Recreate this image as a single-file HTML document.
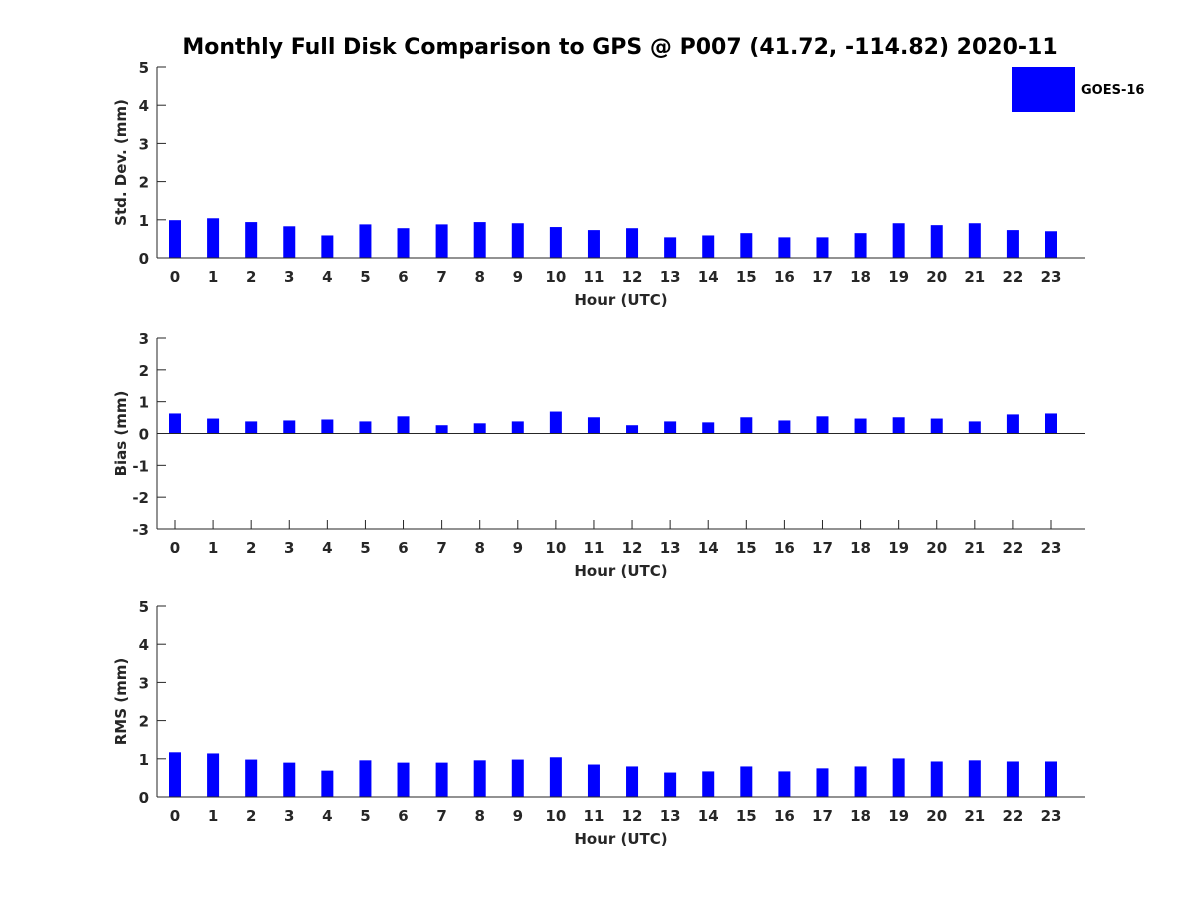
<!DOCTYPE html>
<html><head><meta charset="utf-8"><style>
body{margin:0;background:#fff;}
svg{display:block;font-family:"DejaVu Sans","Liberation Sans",sans-serif;font-weight:bold;}
</style></head><body>
<svg id="chart" width="1200" height="900" viewBox="0 0 1200 900">
<rect width="1200" height="900" fill="#fff"/>
<text x="620" y="54" text-anchor="middle" font-size="22" fill="#000">Monthly Full Disk Comparison to GPS @ P007 (41.72, -114.82) 2020-11</text>
<g>
<rect x="1012" y="67" width="63" height="45" fill="#0000ff"/>
<text x="1081" y="94" font-size="13" fill="#000">GOES-16</text>
</g>
</svg>
<script>
const hours = [0,1,2,3,4,5,6,7,8,9,10,11,12,13,14,15,16,17,18,19,20,21,22,23];
const stdValues = [0.99,1.04,0.94,0.83,0.59,0.88,0.78,0.88,0.94,0.91,0.81,0.73,0.78,0.54,0.59,0.65,0.54,0.54,0.65,0.91,0.86,0.91,0.73,0.70];
const biasValues = [0.63,0.47,0.38,0.41,0.44,0.38,0.54,0.26,0.32,0.38,0.69,0.51,0.26,0.38,0.35,0.51,0.41,0.54,0.47,0.51,0.47,0.38,0.60,0.63];
const rmsValues = [1.17,1.14,0.98,0.90,0.69,0.96,0.90,0.90,0.96,0.98,1.04,0.85,0.80,0.64,0.67,0.80,0.67,0.75,0.80,1.01,0.93,0.96,0.93,0.93];
const stdTicks = [0,1,2,3,4,5];
const biasTicks = [-3,-2,-1,0,1,2,3];
const rmsTicks = [0,1,2,3,4,5];

const NS = "http://www.w3.org/2000/svg";
const svg = document.getElementById('chart');
function mk(tag, attrs, parent){
  const e = document.createElementNS(NS, tag);
  for (const k in attrs) e.setAttribute(k, attrs[k]);
  (parent||svg).appendChild(e);
  return e;
}
const X0 = 157, X1 = 1085;
function xScale(h){ return 175 + h * (1051 - 175) / 23; }

function panel(name, top, bottom, yMin, yMax, ticks, values, yLabel){
  const g = mk('g', {});
  
  
  const yScale = v => bottom - (v - yMin) / (yMax - yMin) * (bottom - top);
  const zero = yScale(Math.max(yMin, 0));
  hours.forEach(h => {
    const x = xScale(h);
    mk('line', {x1: x, y1: bottom, x2: x, y2: bottom - 9, stroke: '#262626'}, g);
    const tx = mk('text', {x: x, y: bottom + 24, 'text-anchor': 'middle', 'font-size': 15, fill: '#262626'}, g);
    tx.textContent = h;
    
    
  });
  values.forEach((v, i) => {
    const y = yScale(v);
    const r = mk('rect', {x: xScale(hours[i]) - 6, y: Math.min(y, zero), width: 12, height: Math.abs(zero - y), fill: '#0000ff'}, g);
    
    
  });
  const ya = mk('line', {x1: X0, y1: top, x2: X0, y2: bottom, stroke: '#262626', 'stroke-width': 1}, g);
  
  
  const xa = mk('line', {x1: X0, y1: zero, x2: X1, y2: zero, stroke: '#262626', 'stroke-width': 1}, g);
  
  
  if (yMin < 0) {
    const xb = mk('line', {x1: X0, y1: bottom, x2: X1, y2: bottom, stroke: '#262626', 'stroke-width': 1}, g);
    
    
  }
  ticks.forEach(t => {
    const y = yScale(t);
    mk('line', {x1: X0, y1: y, x2: X0 + 9, y2: y, stroke: '#262626'}, g);
    const tx = mk('text', {x: X0 - 8, y: y + 6, 'text-anchor': 'end', 'font-size': 15, fill: '#262626'}, g);
    tx.textContent = t;
    
    
  });
  const xl = mk('text', {x: 621, y: bottom + 47, 'text-anchor': 'middle', 'font-size': 15, fill: '#262626'}, g);
  xl.textContent = 'Hour (UTC)';
  
  
  const cy = (top + bottom) / 2;
  const yl = mk('text', {x: 126, y: cy, 'text-anchor': 'middle', 'font-size': 15, fill: '#262626', transform: 'rotate(-90 126 ' + cy + ')'}, g);
  yl.textContent = yLabel;
  
  
}
panel('std', 67, 258, 0, 5, stdTicks, stdValues, 'Std. Dev. (mm)');
panel('bias', 338, 529, -3, 3, biasTicks, biasValues, 'Bias (mm)');
panel('rms', 606, 797, 0, 5, rmsTicks, rmsValues, 'RMS (mm)');
</script>
</body></html>
